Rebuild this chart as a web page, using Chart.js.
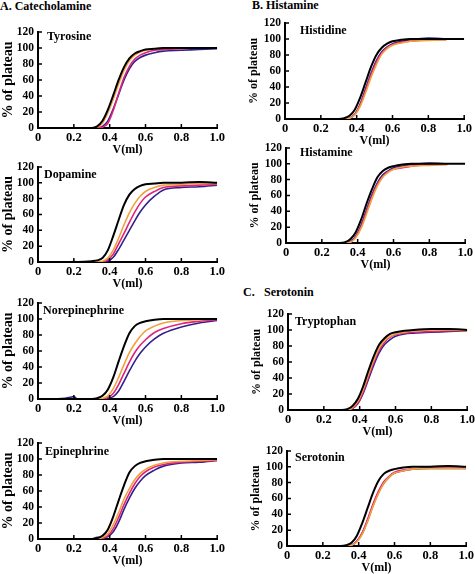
<!DOCTYPE html>
<html>
<head>
<meta charset="utf-8">
<script src="https://cdn.jsdelivr.net/npm/chart.js@4.4.1/dist/chart.umd.min.js"></script>
<style>
  body { margin:0; width:475px; height:574px; position:relative; overflow:hidden; background:#fff; }
  .hdr { position:absolute; font:bold 12px/12px "Liberation Serif", serif; color:#000; white-space:nowrap; }
  canvas { position:absolute; }
</style>
</head>
<body>
<div class="hdr" style="left:0;top:0">A. Catecholamine</div>
<div class="hdr" style="left:252px;top:-1px">B. Histamine</div>
<div class="hdr" style="left:243px;top:286px">C.</div>
<div class="hdr" style="left:264px;top:286px">Serotonin</div>

<canvas id="p1"></canvas><canvas id="p2"></canvas><canvas id="p3"></canvas><canvas id="p4"></canvas>
<canvas id="p5"></canvas><canvas id="p6"></canvas><canvas id="p7"></canvas><canvas id="p8"></canvas>

<script>
// elution volume (ml), shared by every curve
const volume = [0, 0.15, 0.18, 0.20, 0.22, 0.30, 0.33, 0.36, 0.39, 0.42, 0.45, 0.48, 0.51, 0.54, 0.57, 0.60, 0.65, 0.70, 0.80, 0.90, 1.00];

const seriesNames = ['black', 'orange', 'magenta', 'indigo'];
const seriesColors = ['#000000', '#f2a23a', '#e0247e', '#34208c'];

const xTicks = [0, 0.2, 0.4, 0.6, 0.8, 1.0];
const yTicks = [0, 20, 40, 60, 80, 100, 120];

// % of plateau, one row per series (black, orange, magenta, indigo)
const tyrosine = [
  [0,0,0,0,0,0, 2,9,23,41,60,76,87,93,96,98,99,100,100,100,100],
  [0,0,0,0,0,0, 1,6,19,36,55,72,84,91,95,97,99,100,100,100,100],
  [0,0,0,0,0,0, 0,1,6,22,43,63,77,86,91,94,97,98,99,100,100],
  [0,0,0,0,0,0, 0,2,9,24,42,60,74,83,88,91,94,96,97,98,99]
];
const dopamine = [
  [0,0,0,0,0,1, 2,5,15,33,53,72,85,92,96,98,99,100,100,101,100],
  [0,0,0,1,0,0, 0,1,5,15,30,47,62,74,83,89,94,97,98,99,99],
  [0,0,0,0,0,0, 0,0,3,10,23,36,50,63,74,82,89,94,96,97,98],
  [0,0,0,0,0,0, 0,0,1,6,16,28,40,52,63,72,83,91,94,95,97]
];
const norepinephrine = [
  [0,0,0,0,0,0, 1,4,12,27,47,66,82,91,95,97,99,100,100,100,100],
  [0,0,0,0,0,0, 0,1,4,13,27,43,58,69,78,85,91,95,98,99,100],
  [0,0,0,0,0,0, 0,0,2,7,18,32,46,58,67,74,83,88,94,97,99],
  [0,1,2,3,0,0, 0,0,1,3,10,22,35,47,57,65,75,82,90,95,98]
];
const epinephrine = [
  [0,0,0,0,0,0, 1,4,12,28,48,67,83,91,95,97,99,100,100,100,100],
  [0,0,0,0,0,0, 0,2,7,18,33,50,63,74,82,87,92,95,97,98,99],
  [0,0,0,0,0,0, 0,1,4,13,27,43,57,69,78,84,90,93,96,97,98],
  [0,0,0,0,0,0, 2,1,3,9,21,37,51,63,72,79,86,91,95,96,98]
];
const histidine = [
  [0,0,0,0,0,0, 1,4,12,27,46,65,80,89,94,97,99,100,100,100,100],
  [0,0,0,0,0,0, 0,1,5,16,33,52,68,81,88,92,95,97,98,99,null],
  [0,0,0,0,0,0, 0,1,6,18,36,55,71,82,89,93,96,97,99,99,null],
  [0,0,0,0,0,0, 0,1,6,19,38,57,73,84,90,94,97,99,101,100,null]
];
const histamine = [
  [0,0,0,0,0,0, 1,5,14,30,50,68,83,91,95,97,99,100,100,100,100],
  [0,0,0,0,0,0, 0,1,7,19,37,56,72,83,89,93,96,97,98,99,null],
  [0,0,0,0,0,0, 0,1,8,21,40,59,74,84,90,93,95,97,99,99,null],
  [0,0,0,0,0,0, 0,2,9,23,42,61,76,86,91,95,97,99,101,100,null]
];
const tryptophan = [
  [0,0,0,0,0,0, 1,5,14,30,50,68,82,90,95,97,99,100,101,101,100],
  [0,0,0,0,0,0, 0,3,11,26,45,63,78,87,92,95,97,99,100,100,99],
  [0,0,0,0,0,0, 0,2,9,23,42,60,75,85,91,94,96,97,98,99,99],
  [0,0,0,0,0,0, 0,2,8,21,39,57,72,82,88,92,95,96,97,98,99]
];
const serotonin = [
  [0,0,0,0,0,0, 1,4,13,29,48,67,82,91,95,97,99,100,100,101,100],
  [0,0,0,0,0,0, 0,1,5,15,31,50,66,79,87,92,95,97,98,98,98],
  [0,0,0,0,0,0, 0,1,6,17,34,53,69,81,88,93,96,97,99,99,98],
  [0,0,0,0,0,0, 0,1,6,16,32,51,67,79,87,92,95,97,98,98,98]
];

// panel placement: plot-area left/top/height, label offset, y title size
const panels = [
  {id:'p1', name:'Tyrosine',       rows:tyrosine,       L:38,  T:29,  H:99, lx:9,  ly:5, ys:14},
  {id:'p2', name:'Dopamine',       rows:dopamine,       L:38,  T:164, H:98, lx:6,  ly:8, ys:14},
  {id:'p3', name:'Norepinephrine', rows:norepinephrine, L:38,  T:300, H:99, lx:5,  ly:8, ys:14},
  {id:'p4', name:'Epinephrine',    rows:epinephrine,    L:38,  T:440, H:99, lx:7,  ly:9, ys:14},
  {id:'p5', name:'Histidine',      rows:histidine,      L:285, T:20,  H:99, lx:15, ly:8, ys:12},
  {id:'p6', name:'Histamine',      rows:histamine,      L:286, T:145, H:98, lx:14, ly:5, ys:12},
  {id:'p7', name:'Tryptophan',     rows:tryptophan,     L:288, T:311, H:99, lx:7,  ly:8, ys:12},
  {id:'p8', name:'Serotonin',      rows:serotonin,      L:287, T:448, H:98, lx:8,  ly:7, ys:12}
];

const FAMILY = '"Liberation Serif", "Times New Roman", serif';
Chart.defaults.font.family = FAMILY;
Chart.defaults.font.weight = 'bold';
Chart.defaults.color = '#000';

// small inward tick marks + panel name in the upper left corner
const panelDecor = {
  id: 'panelDecor',
  afterDraw(chart, args, opts) {
    const {ctx, chartArea: a, scales: {x, y}} = chart;
    ctx.save();
    ctx.strokeStyle = '#000';
    ctx.lineWidth = 1.5;
    ctx.beginPath();
    x.ticks.forEach(t => {
      if (t.value === 0) return;
      const px = x.getPixelForValue(t.value);
      ctx.moveTo(px, a.bottom);
      ctx.lineTo(px, a.bottom - 4);
    });
    y.ticks.forEach(t => {
      if (t.value === 0) return;
      const py = y.getPixelForValue(t.value);
      ctx.moveTo(a.left, py);
      ctx.lineTo(a.left + 4, py);
    });
    ctx.stroke();
    ctx.font = 'bold 12px ' + FAMILY;
    ctx.fillStyle = '#000';
    ctx.textBaseline = 'middle';
    ctx.fillText(opts.label, a.left + opts.dx, a.top + opts.dy);
    ctx.restore();
  }
};

const Y_W = 38, X_H = 29, PAD_T = 8, PAD_R = 9, AREA_W = 180;

panels.forEach(p => {
  const cv = document.getElementById(p.id);
  cv.width = Y_W + AREA_W + PAD_R;
  cv.height = PAD_T + p.H + X_H;
  cv.style.left = (p.L - Y_W) + 'px';
  cv.style.top = (p.T - PAD_T) + 'px';

  const datasets = p.rows.map((vals, i) => ({
    label: seriesNames[i],
    data: volume.map((v, k) => ({x: v, y: vals[k]})),
    borderColor: seriesColors[i],
    borderWidth: i === 0 ? 2 : 1.6,
    pointRadius: 0,
    fill: false,
    spanGaps: false,
    cubicInterpolationMode: 'monotone',
    order: i + 1
  }));

  new Chart(cv.getContext('2d'), {
    type: 'line',
    data: {datasets},
    plugins: [panelDecor],
    options: {
      responsive: false,
      animation: false,
      devicePixelRatio: 1,
      layout: {padding: {top: PAD_T, right: PAD_R, left: 0, bottom: 0}, autoPadding: false},
      plugins: {
        legend: {display: false},
        tooltip: {enabled: false},
        panelDecor: {label: p.name, dx: p.lx, dy: p.ly}
      },
      scales: {
        x: {
          type: 'linear', min: 0, max: 1,
          afterBuildTicks: s => { s.ticks = xTicks.map(v => ({value: v})); },
          afterFit: s => { s.height = X_H; },
          grid: {drawOnChartArea: false, drawTicks: false},
          border: {display: true, color: '#000', width: 2},
          ticks: {
            padding: 2, maxRotation: 0, autoSkip: false,
            font: {family: FAMILY, size: 12.5, weight: 'bold'},
            callback: v => v === 0 ? '0' : v.toFixed(1)
          },
          title: {display: true, text: 'V(ml)', font: {family: FAMILY, size: 12, weight: 'bold'}, padding: 0}
        },
        y: {
          min: 0, max: 120,
          afterBuildTicks: s => { s.ticks = yTicks.map(v => ({value: v})); },
          afterFit: s => { s.width = Y_W; },
          grid: {drawOnChartArea: false, drawTicks: false},
          border: {display: true, color: '#000', width: 2},
          ticks: {padding: 4, autoSkip: false, font: {family: FAMILY, size: 11.5, weight: 'bold'}},
          title: {display: true, text: '% of plateau', font: {family: FAMILY, size: p.ys, weight: 'bold'}, padding: 0}
        }
      }
    }
  });
});
</script>
</body>
</html>
